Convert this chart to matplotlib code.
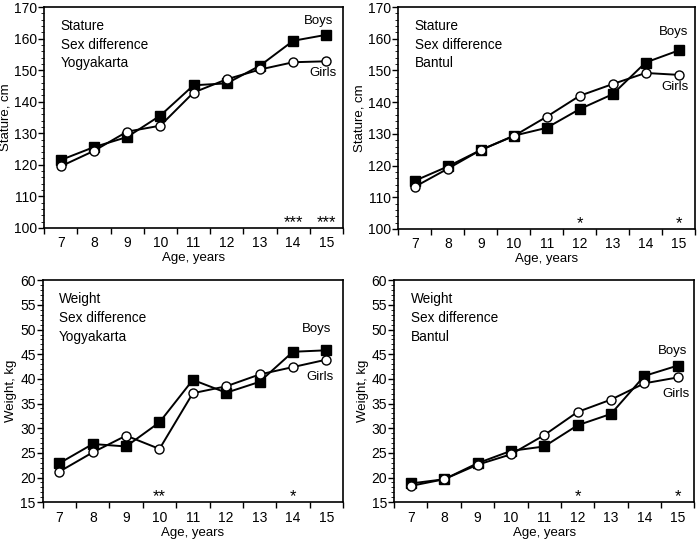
import numpy as np
import matplotlib
matplotlib.use("Agg")
import matplotlib.pyplot as plt
from matplotlib.ticker import MultipleLocator, FixedLocator, NullFormatter

plt.rcParams['font.family'] = ['Liberation Sans', 'DejaVu Sans']

ages = [7, 8, 9, 10, 11, 12, 13, 14, 15]

# stature, cm
stat_yog_boys = [121.5, 125.6, 128.8, 135.6, 145.2, 145.8, 151.4, 159.3, 161.2]
stat_yog_girls = [119.5, 124.4, 130.5, 132.4, 142.9, 147.1, 150.2, 152.5, 152.8]
stat_ban_boys = [115.2, 119.7, 124.9, 129.4, 131.9, 137.8, 142.5, 152.5, 156.3]
stat_ban_girls = [113.3, 119.0, 124.9, 129.3, 135.4, 142.0, 145.7, 149.2, 148.6]

# weight, kg
wt_yog_boys = [22.9, 26.8, 26.3, 31.2, 39.8, 37.2, 39.4, 45.5, 45.8]
wt_yog_girls = [21.2, 25.1, 28.5, 25.8, 37.1, 38.5, 40.9, 42.4, 43.9]
wt_ban_boys = [18.8, 19.65, 22.9, 25.4, 26.3, 30.6, 32.9, 40.6, 42.7]
wt_ban_girls = [18.3, 19.65, 22.6, 24.7, 28.6, 33.3, 35.8, 39.1, 40.3]

# significance marks (age, stars)
sig_stat_yog = [(14, '***'), (15, '***')]
sig_stat_ban = [(12, '*'), (15, '*')]
sig_wt_yog = [(10, '**'), (14, '*')]
sig_wt_ban = [(12, '*'), (15, '*')]


def panel(ax, boys, girls, title, ylabel, ylim, ymajor, yminor, sig,
          boys_lbl, girls_lbl):
    ax.plot(ages, boys, '-', color='black', lw=1.4, marker='s', ms=7,
            mfc='black', mec='black', zorder=3)
    ax.plot(ages, girls, '-', color='black', lw=1.4, marker='o', ms=6.5,
            mfc='white', mec='black', mew=1.0, zorder=4)
    ax.set_xlim(6.5, 15.5)
    ax.set_ylim(*ylim)
    ax.xaxis.set_major_locator(FixedLocator(np.arange(6.5, 16, 1)))
    ax.xaxis.set_major_formatter(NullFormatter())
    ax.xaxis.set_minor_locator(FixedLocator(ages))
    ax.set_xticklabels([str(a) for a in ages], minor=True)
    ax.tick_params(axis='x', which='major', direction='out', length=4, width=1)
    ax.tick_params(axis='x', which='minor', length=0, labelsize=10, pad=6)
    ax.yaxis.set_major_locator(MultipleLocator(ymajor))
    ax.yaxis.set_minor_locator(MultipleLocator(yminor))
    ax.tick_params(axis='y', which='major', direction='out', length=4,
                   width=1, labelsize=10, pad=1)
    ax.tick_params(axis='y', which='minor', direction='out', length=2, width=0.6)
    for s in ax.spines.values():
        s.set_linewidth(1.2)
    ax.set_xlabel('Age, years', fontsize=9.5, labelpad=1.5)
    ax.set_ylabel(ylabel, fontsize=9.5, labelpad=2)
    ax.text(0.055, 0.945, title, transform=ax.transAxes, fontsize=9.8,
            va='top', ha='left', linespacing=1.42)
    rng = ylim[1] - ylim[0]
    for age, stars in sig:
        ax.text(age, ylim[0] + 0.025 * rng, stars, ha='center', va='center',
                fontsize=12)
    ax.text(boys_lbl[0], boys_lbl[1], 'Boys', ha='center', va='center',
            fontsize=9.5)
    ax.text(girls_lbl[0], girls_lbl[1], 'Girls', ha='center', va='center',
            fontsize=9.5)


fig = plt.figure(figsize=(7, 5.4), dpi=100)
ax1 = fig.add_axes([0.063, 0.578, 0.427, 0.409])
ax2 = fig.add_axes([0.569, 0.576, 0.424, 0.411])
ax3 = fig.add_axes([0.061, 0.070, 0.429, 0.411])
ax4 = fig.add_axes([0.563, 0.070, 0.429, 0.411])

panel(ax1, stat_yog_boys, stat_yog_girls, 'Stature\nSex difference\nYogyakarta',
      'Stature, cm', (100, 170), 10, 2, sig_stat_yog, (14.75, 165.5), (14.9, 149))
panel(ax2, stat_ban_boys, stat_ban_girls, 'Stature\nSex difference\nBantul',
      'Stature, cm', (100, 170), 10, 2, sig_stat_ban, (14.85, 162), (14.9, 144.8))
panel(ax3, wt_yog_boys, wt_yog_girls, 'Weight\nSex difference\nYogyakarta',
      'Weight, kg', (15, 60), 5, 1, sig_wt_yog, (14.7, 50.1), (14.8, 40.3))
panel(ax4, wt_ban_boys, wt_ban_girls, 'Weight\nSex difference\nBantul',
      'Weight, kg', (15, 60), 5, 1, sig_wt_ban, (14.85, 45.6), (14.95, 36.9))

fig.savefig('out.png', dpi=100)
